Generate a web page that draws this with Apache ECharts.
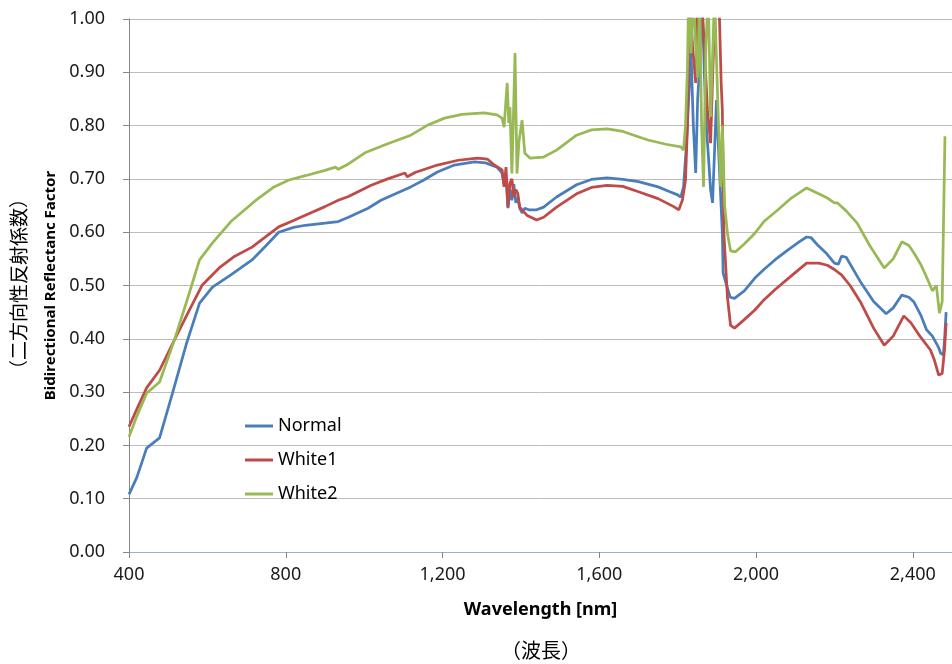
<!DOCTYPE html>
<html>
<head>
<meta charset="utf-8">
<title>Bidirectional Reflectance Factor</title>
<script src="https://cdn.jsdelivr.net/npm/echarts@6/dist/echarts.min.js"></script>
<style>
  html, body { margin: 0; padding: 0; background: #fff; }
  #chart { width: 952px; height: 664px; }
</style>
</head>
<body>
<div id="chart"></div>
<script>
// series names
var seriesNames = ['Normal', 'White1', 'White2'];

// Normal (blue)
var normalWl = [400, 420, 445, 478, 511, 547, 580, 613, 660, 714, 750, 782, 820, 850, 900, 934, 960, 1010, 1043, 1080, 1119, 1150, 1187, 1230, 1281, 1310, 1339, 1352, 1357, 1362, 1367, 1372, 1377, 1382, 1387, 1392, 1397, 1403, 1410, 1420, 1440, 1458, 1491, 1542, 1580, 1620, 1660, 1700, 1750, 1780, 1800, 1808, 1815, 1822, 1828, 1834, 1840, 1846, 1851, 1856, 1862, 1868, 1873, 1878, 1884, 1889, 1894, 1899, 1904, 1909, 1914, 1916, 1925, 1934, 1945, 1970, 1997, 2020, 2048, 2080, 2110, 2129, 2140, 2157, 2180, 2200, 2210, 2218, 2230, 2268, 2300, 2332, 2350, 2372, 2390, 2403, 2420, 2435, 2450, 2465, 2471, 2478, 2481, 2485];
var normalVal = [0.108, 0.140, 0.195, 0.214, 0.298, 0.392, 0.467, 0.497, 0.520, 0.548, 0.575, 0.600, 0.609, 0.613, 0.617, 0.620, 0.628, 0.645, 0.660, 0.672, 0.685, 0.697, 0.713, 0.726, 0.732, 0.730, 0.722, 0.711, 0.690, 0.700, 0.645, 0.680, 0.660, 0.690, 0.655, 0.665, 0.645, 0.636, 0.645, 0.642, 0.642, 0.647, 0.666, 0.689, 0.699, 0.702, 0.699, 0.695, 0.685, 0.676, 0.670, 0.666, 0.685, 0.760, 0.848, 0.940, 0.800, 0.711, 0.850, 0.910, 1.050, 0.900, 0.800, 0.748, 0.680, 0.655, 0.750, 0.848, 0.760, 0.680, 0.598, 0.523, 0.500, 0.478, 0.476, 0.490, 0.514, 0.530, 0.548, 0.566, 0.582, 0.591, 0.590, 0.576, 0.560, 0.542, 0.540, 0.555, 0.553, 0.505, 0.470, 0.447, 0.458, 0.482, 0.478, 0.469, 0.445, 0.417, 0.405, 0.385, 0.373, 0.370, 0.398, 0.450];

// White1 (red)
var white1Wl = [400, 420, 445, 478, 516, 554, 587, 630, 670, 714, 750, 782, 820, 850, 900, 934, 960, 1018, 1060, 1104, 1110, 1130, 1187, 1240, 1289, 1315, 1332, 1352, 1357, 1362, 1367, 1372, 1377, 1382, 1387, 1392, 1397, 1415, 1440, 1458, 1491, 1542, 1580, 1620, 1660, 1700, 1750, 1790, 1803, 1812, 1820, 1825, 1830, 1838, 1846, 1852, 1860, 1868, 1876, 1884, 1890, 1897, 1905, 1911, 1914, 1918, 1927, 1935, 1945, 1970, 1997, 2020, 2048, 2090, 2129, 2160, 2182, 2200, 2218, 2240, 2268, 2300, 2327, 2350, 2377, 2395, 2420, 2445, 2455, 2466, 2475, 2481, 2485];
var white1Val = [0.235, 0.268, 0.308, 0.341, 0.398, 0.454, 0.501, 0.533, 0.555, 0.572, 0.592, 0.610, 0.622, 0.632, 0.648, 0.660, 0.667, 0.688, 0.700, 0.711, 0.704, 0.712, 0.726, 0.735, 0.739, 0.737, 0.726, 0.717, 0.685, 0.722, 0.647, 0.692, 0.700, 0.666, 0.680, 0.673, 0.647, 0.632, 0.623, 0.628, 0.647, 0.672, 0.684, 0.688, 0.686, 0.676, 0.663, 0.648, 0.642, 0.660, 0.698, 0.800, 1.050, 0.950, 0.880, 1.050, 1.050, 0.950, 0.829, 0.767, 0.910, 1.050, 1.050, 0.880, 0.829, 0.598, 0.478, 0.425, 0.420, 0.436, 0.454, 0.473, 0.492, 0.518, 0.542, 0.542, 0.538, 0.530, 0.520, 0.500, 0.467, 0.420, 0.388, 0.405, 0.443, 0.430, 0.403, 0.379, 0.360, 0.332, 0.335, 0.380, 0.430];

// White2 (green)
var white2Wl = [400, 420, 445, 478, 516, 554, 580, 613, 660, 724, 770, 808, 850, 900, 927, 934, 960, 1002, 1060, 1119, 1160, 1205, 1250, 1306, 1339, 1352, 1357, 1365, 1369, 1372, 1377, 1381, 1385, 1390, 1395, 1403, 1410, 1423, 1440, 1458, 1491, 1542, 1580, 1620, 1660, 1724, 1770, 1808, 1815, 1820, 1825, 1828, 1834, 1840, 1846, 1851, 1856, 1861, 1866, 1872, 1878, 1884, 1890, 1894, 1900, 1905, 1910, 1914, 1920, 1927, 1935, 1947, 1970, 1997, 2020, 2056, 2090, 2129, 2160, 2182, 2200, 2208, 2230, 2258, 2290, 2327, 2350, 2372, 2390, 2403, 2420, 2435, 2450, 2460, 2468, 2475, 2479, 2482];
var white2Val = [0.216, 0.255, 0.298, 0.319, 0.398, 0.486, 0.548, 0.580, 0.620, 0.660, 0.685, 0.698, 0.706, 0.716, 0.722, 0.718, 0.728, 0.749, 0.766, 0.782, 0.800, 0.814, 0.821, 0.824, 0.820, 0.814, 0.797, 0.880, 0.805, 0.835, 0.710, 0.820, 0.936, 0.710, 0.770, 0.810, 0.748, 0.739, 0.740, 0.741, 0.754, 0.782, 0.792, 0.794, 0.789, 0.773, 0.765, 0.760, 0.754, 0.800, 0.910, 1.050, 0.936, 1.050, 0.950, 0.890, 1.050, 0.800, 0.685, 0.950, 1.050, 0.816, 0.950, 1.050, 0.900, 0.786, 0.685, 0.800, 0.650, 0.598, 0.565, 0.563, 0.578, 0.598, 0.620, 0.642, 0.664, 0.683, 0.672, 0.664, 0.655, 0.655, 0.640, 0.617, 0.575, 0.533, 0.550, 0.582, 0.575, 0.561, 0.540, 0.516, 0.490, 0.500, 0.448, 0.470, 0.470, 0.780];

var colors = ['#4a7ebb', '#be4b48', '#98b954'];

function pairs(xs, ys) {
    return xs.map(function (x, i) { return [x, ys[i]]; });
}

var myChart = echarts.init(document.getElementById('chart'));

var labelFont = '"Noto Sans", "Open Sans", sans-serif';
var titleFont = '"Noto Sans", "Noto Sans CJK JP", sans-serif';

var option = {
    animation: false,
    backgroundColor: '#ffffff',
    color: colors,
    textStyle: { fontFamily: labelFont },
    grid: { left: 129, top: 19, bottom: 112, width: 830 },
    legend: {
        orient: 'vertical',
        left: 240,
        top: 412,
        itemGap: 16,
        icon: 'rect',
        itemWidth: 28,
        itemHeight: 3,
        textStyle: { fontSize: 18, color: '#000', fontFamily: labelFont },
        data: seriesNames
    },
    xAxis: [{
        type: 'value',
        min: 400,
        max: 2500,
        interval: 400,
        name: 'Wavelength [nm]',
        nameLocation: 'middle',
        nameGap: 49,
        nameTextStyle: { fontSize: 18, fontWeight: 'bold', color: '#000', fontFamily: titleFont },
        axisLine: { show: true, onZero: false, lineStyle: { color: '#868686', width: 1 } },
        axisTick: { show: true, inside: false, length: 6, lineStyle: { color: '#868686' } },
        axisLabel: {
            fontSize: 18, color: '#1a1a1a', margin: 14, showMaxLabel: false,
            formatter: function (v) { return v.toLocaleString('en-US'); }
        },
        splitLine: { show: false }
    }, {
        // top border of the plot area
        type: 'value',
        position: 'top',
        min: 400,
        max: 2500,
        axisLine: { show: true, lineStyle: { color: '#95b3d7', width: 1 } },
        axisTick: { show: false },
        axisLabel: { show: false },
        splitLine: { show: false }
    }],
    yAxis: {
        type: 'value',
        min: 0,
        max: 1,
        interval: 0.1,
        name: 'Bidirectional Reflectanc Factor',
        nameLocation: 'middle',
        nameGap: 71,
        nameTextStyle: { fontSize: 15, fontWeight: 'bold', color: '#000', fontFamily: titleFont },
        axisLine: { show: true, lineStyle: { color: '#868686', width: 1 } },
        axisTick: { show: true, inside: false, length: 6, lineStyle: { color: '#868686' } },
        axisLabel: {
            fontSize: 18, color: '#1a1a1a', margin: 24,
            formatter: function (v) { return v.toFixed(2); }
        },
        splitLine: { show: true, lineStyle: { color: '#bcbcbc', width: 1 } }
    },
    graphic: [{
        type: 'text',
        rotation: Math.PI / 2,
        x: 19, y: 284,
        style: {
            text: '（二方向性反射係数）',
            font: '19px "Noto Sans CJK JP", sans-serif',
            fill: '#000',
            textAlign: 'center',
            textVerticalAlign: 'middle'
        }
    }, {
        type: 'text',
        x: 541,
        y: 650,
        style: {
            text: '（波長）',
            font: '20px "Noto Sans CJK JP", sans-serif',
            fill: '#000',
            textAlign: 'center',
            textVerticalAlign: 'middle'
        }
    }],
    series: [{
        name: seriesNames[0],
        type: 'line',
        symbol: 'none',
        lineStyle: { width: 2.75 },
        data: pairs(normalWl, normalVal)
    }, {
        name: seriesNames[1],
        type: 'line',
        symbol: 'none',
        lineStyle: { width: 2.75 },
        data: pairs(white1Wl, white1Val)
    }, {
        name: seriesNames[2],
        type: 'line',
        symbol: 'none',
        lineStyle: { width: 2.75 },
        data: pairs(white2Wl, white2Val)
    }]
};

myChart.setOption(option);
</script>
</body>
</html>
